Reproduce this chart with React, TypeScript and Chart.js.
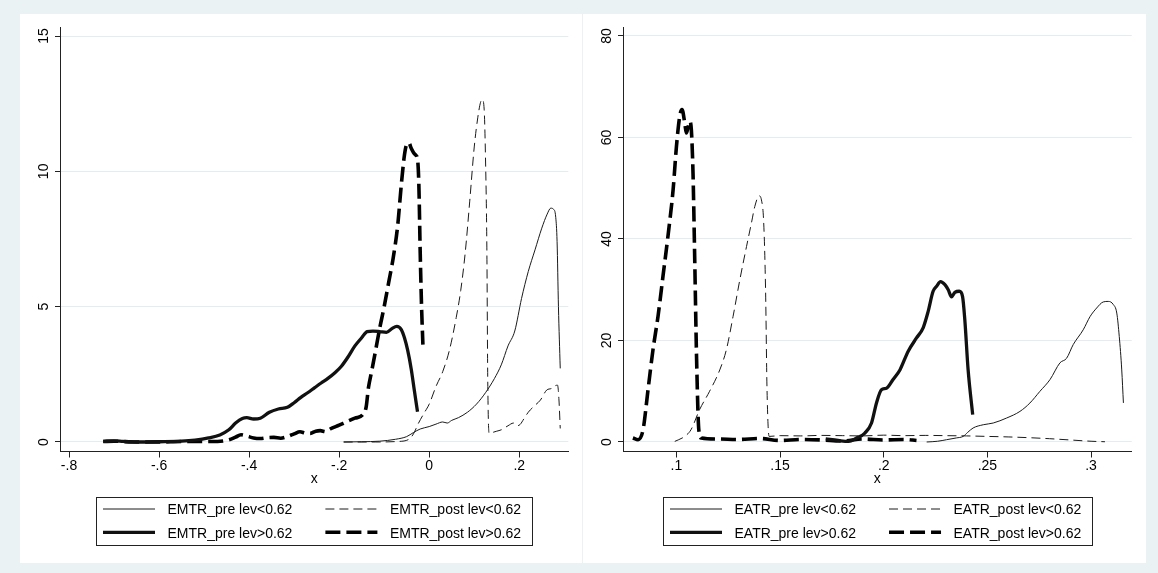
import React, { useEffect, useRef } from 'react';
import { Chart, registerables } from 'chart.js';

Chart.register(...registerables);

// ---------------- Left panel: EMTR ----------------
const emtrLabels = ['EMTR_pre lev<0.62', 'EMTR_post lev<0.62', 'EMTR_pre lev>0.62', 'EMTR_post lev>0.62'];
const emtrXTicks = [-0.8, -0.6, -0.4, -0.2, 0, 0.2];
const emtrXTickLabels = ['-.8', '-.6', '-.4', '-.2', '0', '.2'];
const emtrYTicks = [0, 5, 10, 15];
const emtrYTickLabels = ['0', '5', '10', '15'];
const emtrXRange = [-0.82, 0.3089];
const emtrYRange = [-0.351, 15.333];

const emtrPreLowX = [-0.19, -0.15, -0.11, -0.075, -0.05, -0.035, -0.02, 0.0, 0.015, 0.03, 0.04, 0.05, 0.065, 0.085, 0.105, 0.125, 0.145, 0.16, 0.175, 0.19, 0.205, 0.22, 0.235, 0.25, 0.262, 0.27, 0.276, 0.281, 0.284, 0.287, 0.291];
const emtrPreLowY = [0.0, 0.01, 0.03, 0.1, 0.2, 0.35, 0.48, 0.57, 0.66, 0.74, 0.7, 0.8, 0.9, 1.1, 1.4, 1.82, 2.35, 2.85, 3.55, 4.1, 5.3, 6.3, 7.1, 7.9, 8.42, 8.64, 8.6, 8.3, 7.4, 5.0, 2.72];

const emtrPostLowX = [-0.19, -0.12, -0.07, -0.045, -0.035, -0.024, -0.012, 0.0, 0.015, 0.03, 0.045, 0.06, 0.07, 0.08, 0.09, 0.1, 0.108, 0.114, 0.118, 0.122, 0.125, 0.128, 0.13, 0.133, 0.14, 0.15, 0.16, 0.175, 0.187, 0.195, 0.202, 0.21, 0.22, 0.232, 0.247, 0.261, 0.272, 0.28, 0.285, 0.288, 0.291];
const emtrPostLowY = [0.0, 0.0, 0.02, 0.1, 0.3, 0.69, 1.05, 1.4, 2.05, 2.6, 3.4, 4.6, 5.6, 7.0, 8.9, 10.9, 12.0, 12.55, 12.65, 12.3, 10.5, 7.2, 2.3, 0.32, 0.35, 0.4, 0.45, 0.6, 0.7, 0.6, 0.65, 0.85, 1.1, 1.31, 1.55, 1.92, 1.98, 2.08, 2.1, 1.6, 0.5];

const emtrPreHighX = [-0.724, -0.7, -0.68, -0.65, -0.6, -0.55, -0.52, -0.49, -0.465, -0.445, -0.43, -0.415, -0.405, -0.39, -0.375, -0.355, -0.335, -0.315, -0.3, -0.285, -0.27, -0.255, -0.24, -0.225, -0.21, -0.195, -0.18, -0.165, -0.15, -0.138, -0.125, -0.11, -0.095, -0.082, -0.072, -0.062, -0.055, -0.048, -0.04, -0.033, -0.026];
const emtrPreHighY = [0.02, 0.04, 0.02, 0.0, 0.01, 0.03, 0.07, 0.15, 0.26, 0.45, 0.7, 0.87, 0.9, 0.85, 0.88, 1.1, 1.22, 1.28, 1.45, 1.65, 1.82, 2.0, 2.18, 2.35, 2.55, 2.8, 3.15, 3.55, 3.85, 4.08, 4.1, 4.08, 4.05, 4.2, 4.27, 4.15, 3.85, 3.4, 2.7, 1.9, 1.12];

const emtrPostHighX = [-0.724, -0.7, -0.65, -0.6, -0.55, -0.5, -0.47, -0.445, -0.43, -0.418, -0.405, -0.39, -0.375, -0.36, -0.345, -0.33, -0.315, -0.3, -0.287, -0.275, -0.264, -0.252, -0.242, -0.23, -0.22, -0.2, -0.183, -0.165, -0.148, -0.14, -0.135, -0.128, -0.12, -0.11, -0.1, -0.09, -0.08, -0.07, -0.062, -0.055, -0.05, -0.045, -0.04, -0.035, -0.03, -0.026, -0.023, -0.02, -0.017, -0.014];
const emtrPostHighY = [0.02, 0.03, 0.0, 0.0, 0.02, 0.02, 0.02, 0.08, 0.18, 0.27, 0.22, 0.15, 0.13, 0.16, 0.17, 0.14, 0.2, 0.3, 0.38, 0.33, 0.32, 0.4, 0.42, 0.38, 0.48, 0.62, 0.75, 0.88, 1.0, 1.3, 2.0, 2.6, 3.3, 4.2, 5.0, 5.9, 6.8, 8.0, 9.5, 10.6, 11.0, 11.05, 10.85, 10.7, 10.6, 10.45, 9.5, 7.0, 5.0, 3.6];

// ---------------- Right panel: EATR ----------------
const eatrLabels = ['EATR_pre lev<0.62', 'EATR_post lev<0.62', 'EATR_pre lev>0.62', 'EATR_post lev>0.62'];
const eatrXTicks = [0.1, 0.15, 0.2, 0.25, 0.3];
const eatrXTickLabels = ['.1', '.15', '.2', '.25', '.3'];
const eatrYTicks = [0, 20, 40, 60, 80];
const eatrYTickLabels = ['0', '20', '40', '60', '80'];
const eatrXRange = [0.07423, 0.3196];
const eatrYRange = [-1.872, 81.77];

const eatrPreLowX = [0.2207, 0.226, 0.2303, 0.235, 0.2383, 0.2405, 0.2431, 0.248, 0.2528, 0.2593, 0.2657, 0.2705, 0.2753, 0.2802, 0.285, 0.2882, 0.2914, 0.2962, 0.2995, 0.3027, 0.3059, 0.3083, 0.3107, 0.3124, 0.3136, 0.3148, 0.3156];
const eatrPreLowY = [0.0, 0.15, 0.45, 0.8, 1.1, 1.9, 2.76, 3.4, 3.74, 4.73, 6.03, 7.68, 9.97, 12.3, 15.6, 16.5, 19.2, 22.1, 24.7, 26.4, 27.6, 27.7, 27.1, 25.4, 20.8, 14.2, 7.7];

const eatrPostLowX = [0.0992, 0.104, 0.107, 0.1112, 0.116, 0.1209, 0.1241, 0.1273, 0.1306, 0.1338, 0.1362, 0.1378, 0.1399, 0.141, 0.1421, 0.143, 0.1437, 0.1447, 0.15, 0.16, 0.17, 0.18, 0.19, 0.2, 0.21, 0.22, 0.23, 0.24, 0.25, 0.26, 0.27, 0.28, 0.29, 0.3, 0.3067];
const eatrPostLowY = [0.12, 1.1, 2.4, 6.4, 10.0, 14.2, 18.2, 24.7, 32.0, 38.5, 43.2, 46.4, 48.5, 47.7, 43.2, 30.0, 10.3, 1.1, 1.25, 1.2, 1.3, 1.25, 1.2, 1.35, 1.25, 1.3, 1.25, 1.2, 1.1, 1.0, 0.85, 0.65, 0.4, 0.15, 0.05];

const eatrPreHighX = [0.172, 0.178, 0.183, 0.1869, 0.1909, 0.1941, 0.1965, 0.1989, 0.2013, 0.2045, 0.2078, 0.2118, 0.2158, 0.219, 0.2214, 0.2238, 0.2255, 0.2274, 0.2295, 0.2311, 0.2327, 0.2343, 0.2364, 0.238, 0.2391, 0.2407, 0.2429];
const eatrPreHighY = [0.6, 0.3, 0.12, 0.79, 1.77, 3.74, 7.7, 10.3, 10.6, 12.3, 14.2, 17.9, 20.5, 22.5, 25.7, 29.7, 30.7, 31.6, 31.0, 30.0, 28.6, 29.5, 29.7, 28.7, 24.1, 14.2, 5.4];

const eatrPostHighX = [0.079, 0.0815, 0.0839, 0.0863, 0.0887, 0.0911, 0.0935, 0.0959, 0.0984, 0.1, 0.1016, 0.1027, 0.104, 0.1048, 0.1056, 0.1064, 0.1072, 0.108, 0.1088, 0.1097, 0.1108, 0.112, 0.12, 0.13, 0.14, 0.15, 0.16, 0.17, 0.18, 0.19, 0.2, 0.21, 0.2158];
const eatrPostHighY = [0.79, 0.45, 2.4, 10.3, 18.2, 24.7, 32.6, 40.5, 49.7, 58.2, 64.2, 65.5, 62.9, 60.9, 62.0, 63.2, 61.5, 53.0, 36.6, 16.9, 2.4, 0.79, 0.6, 0.5, 0.7, 0.3, 0.5, 0.4, 0.2, 0.6, 0.4, 0.5, 0.3];

// ---------------- Styles ----------------
const FONT = '"Liberation Sans", Arial, Helvetica, sans-serif';
const BG = '#eaf2f3';
const GRID = '#e3ecef';
const lineStyles = [
  { color: '#1a1a1a', width: 1, dash: [] as number[] },
  { color: '#1a1a1a', width: 1, dash: [9, 5] },
  { color: '#111111', width: 3.3, dash: [] as number[] },
  { color: '#000000', width: 3.6, dash: [15, 6] },
];

const zip = (xs: number[], ys: number[]) => xs.map((x, i) => ({ x, y: ys[i] }));

const stataLegend = {
  id: 'stataLegend',
  afterDraw(chart: any, _args: any, opts: any) {
    const ctx = chart.ctx;
    const ds = chart.data.datasets;
    ctx.save();
    ctx.font = `14px ${FONT}`;
    const w1 = Math.max(ctx.measureText(ds[0].label).width, ctx.measureText(ds[2].label).width);
    const w2 = Math.max(ctx.measureText(ds[1].label).width, ctx.measureText(ds[3].label).width);
    const padL = 6.5, sample = 52, gapST = 12.5, colGap = 33, padR = 11.5;
    const boxW = Math.round(padL + sample + gapST + w1 + colGap + sample + gapST + w2 + padR);
    const ca = chart.chartArea;
    const cx = (ca.left + ca.right) / 2;
    const left = Math.round(cx - boxW / 2) + 0.5;
    const top = opts.top + 0.5;
    ctx.setLineDash([]);
    ctx.lineWidth = 1;
    ctx.strokeStyle = '#222';
    ctx.strokeRect(left, top, boxW, opts.height);
    const rows = opts.rows;
    ds.forEach((d: any, i: number) => {
      const r = Math.floor(i / 2);
      const c = i % 2;
      const x0 = left + padL + (c === 1 ? sample + gapST + w1 + colGap : 0);
      const y = rows[r];
      ctx.beginPath();
      ctx.setLineDash(d.borderDash || []);
      ctx.lineWidth = d.borderWidth;
      ctx.strokeStyle = d.borderColor;
      ctx.lineCap = 'butt';
      ctx.moveTo(x0, y);
      ctx.lineTo(x0 + sample, y);
      ctx.stroke();
      ctx.setLineDash([]);
      ctx.fillStyle = '#000';
      ctx.textBaseline = 'middle';
      ctx.textAlign = 'left';
      ctx.fillText(d.label, x0 + sample + gapST, y + 1.5);
    });
    ctx.restore();
  },
};

type Panel = {
  labels: string[];
  series: { x: number[]; y: number[] }[];
  xTicks: number[];
  xTickLabels: string[];
  yTicks: number[];
  yTickLabels: string[];
  xRange: number[];
  yRange: number[];
  width: number;
  rightPad: number;
};

function makeConfig(p: Panel): any {
  return {
    type: 'line',
    data: {
      datasets: p.series.map((s, i) => ({
        label: p.labels[i],
        data: zip(s.x, s.y),
        borderColor: lineStyles[i].color,
        borderWidth: lineStyles[i].width,
        borderDash: lineStyles[i].dash,
        borderCapStyle: 'butt',
        borderJoinStyle: 'round',
        pointRadius: 0,
        pointHoverRadius: 0,
        fill: false,
        cubicInterpolationMode: 'monotone',
      })),
    },
    options: {
      responsive: false,
      maintainAspectRatio: false,
      animation: false,
      events: [],
      layout: { padding: { left: 0, top: 13, right: p.rightPad, bottom: 75.5 } },
      plugins: {
        legend: { display: false },
        tooltip: { enabled: false },
        stataLegend: { top: 483, height: 48, rows: [495, 518.3] },
      },
      scales: {
        x: {
          type: 'linear',
          min: p.xRange[0],
          max: p.xRange[1],
          afterBuildTicks: (s: any) => {
            s.ticks = p.xTicks.map((v) => ({ value: v }));
          },
          afterFit: (s: any) => {
            s.height = 36;
          },
          ticks: {
            autoSkip: false,
            maxRotation: 0,
            minRotation: 0,
            padding: 0,
            color: '#000',
            font: { family: FONT, size: 14 },
            callback: (_v: any, i: number) => p.xTickLabels[i],
          },
          grid: {
            display: true,
            drawOnChartArea: false,
            drawTicks: true,
            tickLength: 6,
            tickColor: '#222',
            tickWidth: 1,
          },
          border: { display: true, color: '#222', width: 1 },
          title: {
            display: true,
            text: 'x',
            color: '#000',
            font: { family: FONT, size: 14 },
            padding: { top: 0, bottom: 0 },
          },
        },
        y: {
          type: 'linear',
          min: p.yRange[0],
          max: p.yRange[1],
          afterBuildTicks: (s: any) => {
            s.ticks = p.yTicks.map((v) => ({ value: v }));
          },
          afterFit: (s: any) => {
            s.width = 40;
          },
          ticks: {
            autoSkip: false,
            minRotation: 90,
            maxRotation: 90,
            crossAlign: 'center',
            padding: 3.5,
            color: '#000',
            font: { family: FONT, size: 14 },
            callback: (_v: any, i: number) => p.yTickLabels[i],
          },
          grid: {
            display: true,
            drawOnChartArea: true,
            drawTicks: true,
            tickLength: 5,
            color: GRID,
            lineWidth: 1,
            tickColor: '#222',
            tickWidth: 1,
          },
          border: { display: true, color: '#222', width: 1 },
        },
      },
    },
    plugins: [stataLegend],
  };
}

const emtrPanel: Panel = {
  labels: emtrLabels,
  series: [
    { x: emtrPreLowX, y: emtrPreLowY },
    { x: emtrPostLowX, y: emtrPostLowY },
    { x: emtrPreHighX, y: emtrPreHighY },
    { x: emtrPostHighX, y: emtrPostHighY },
  ],
  xTicks: emtrXTicks,
  xTickLabels: emtrXTickLabels,
  yTicks: emtrYTicks,
  yTickLabels: emtrYTickLabels,
  xRange: emtrXRange,
  yRange: emtrYRange,
  width: 562,
  rightPad: 13.7,
};

const eatrPanel: Panel = {
  labels: eatrLabels,
  series: [
    { x: eatrPreLowX, y: eatrPreLowY },
    { x: eatrPostLowX, y: eatrPostLowY },
    { x: eatrPreHighX, y: eatrPreHighY },
    { x: eatrPostHighX, y: eatrPostHighY },
  ],
  xTicks: eatrXTicks,
  xTickLabels: eatrXTickLabels,
  yTicks: eatrYTicks,
  yTickLabels: eatrYTickLabels,
  xRange: eatrXRange,
  yRange: eatrYRange,
  width: 563,
  rightPad: 14.3,
};

function PanelChart({ panel, left }: { panel: Panel; left: number }) {
  const ref = useRef<HTMLCanvasElement | null>(null);
  useEffect(() => {
    if (!ref.current) return;
    const chart = new Chart(ref.current, makeConfig(panel));
    return () => chart.destroy();
  }, [panel]);
  return (
    <div
      style={{
        position: 'absolute',
        left,
        top: 14,
        width: panel.width,
        height: 549,
        background: '#ffffff',
      }}
    >
      <canvas ref={ref} width={panel.width} height={549} style={{ display: 'block' }} />
    </div>
  );
}

export default function App() {
  return (
    <div
      style={{
        position: 'fixed',
        left: 0,
        top: 0,
        width: 1158,
        height: 573,
        background: BG,
        overflow: 'hidden',
      }}
    >
      <PanelChart panel={emtrPanel} left={20} />
      <PanelChart panel={eatrPanel} left={583} />
    </div>
  );
}
